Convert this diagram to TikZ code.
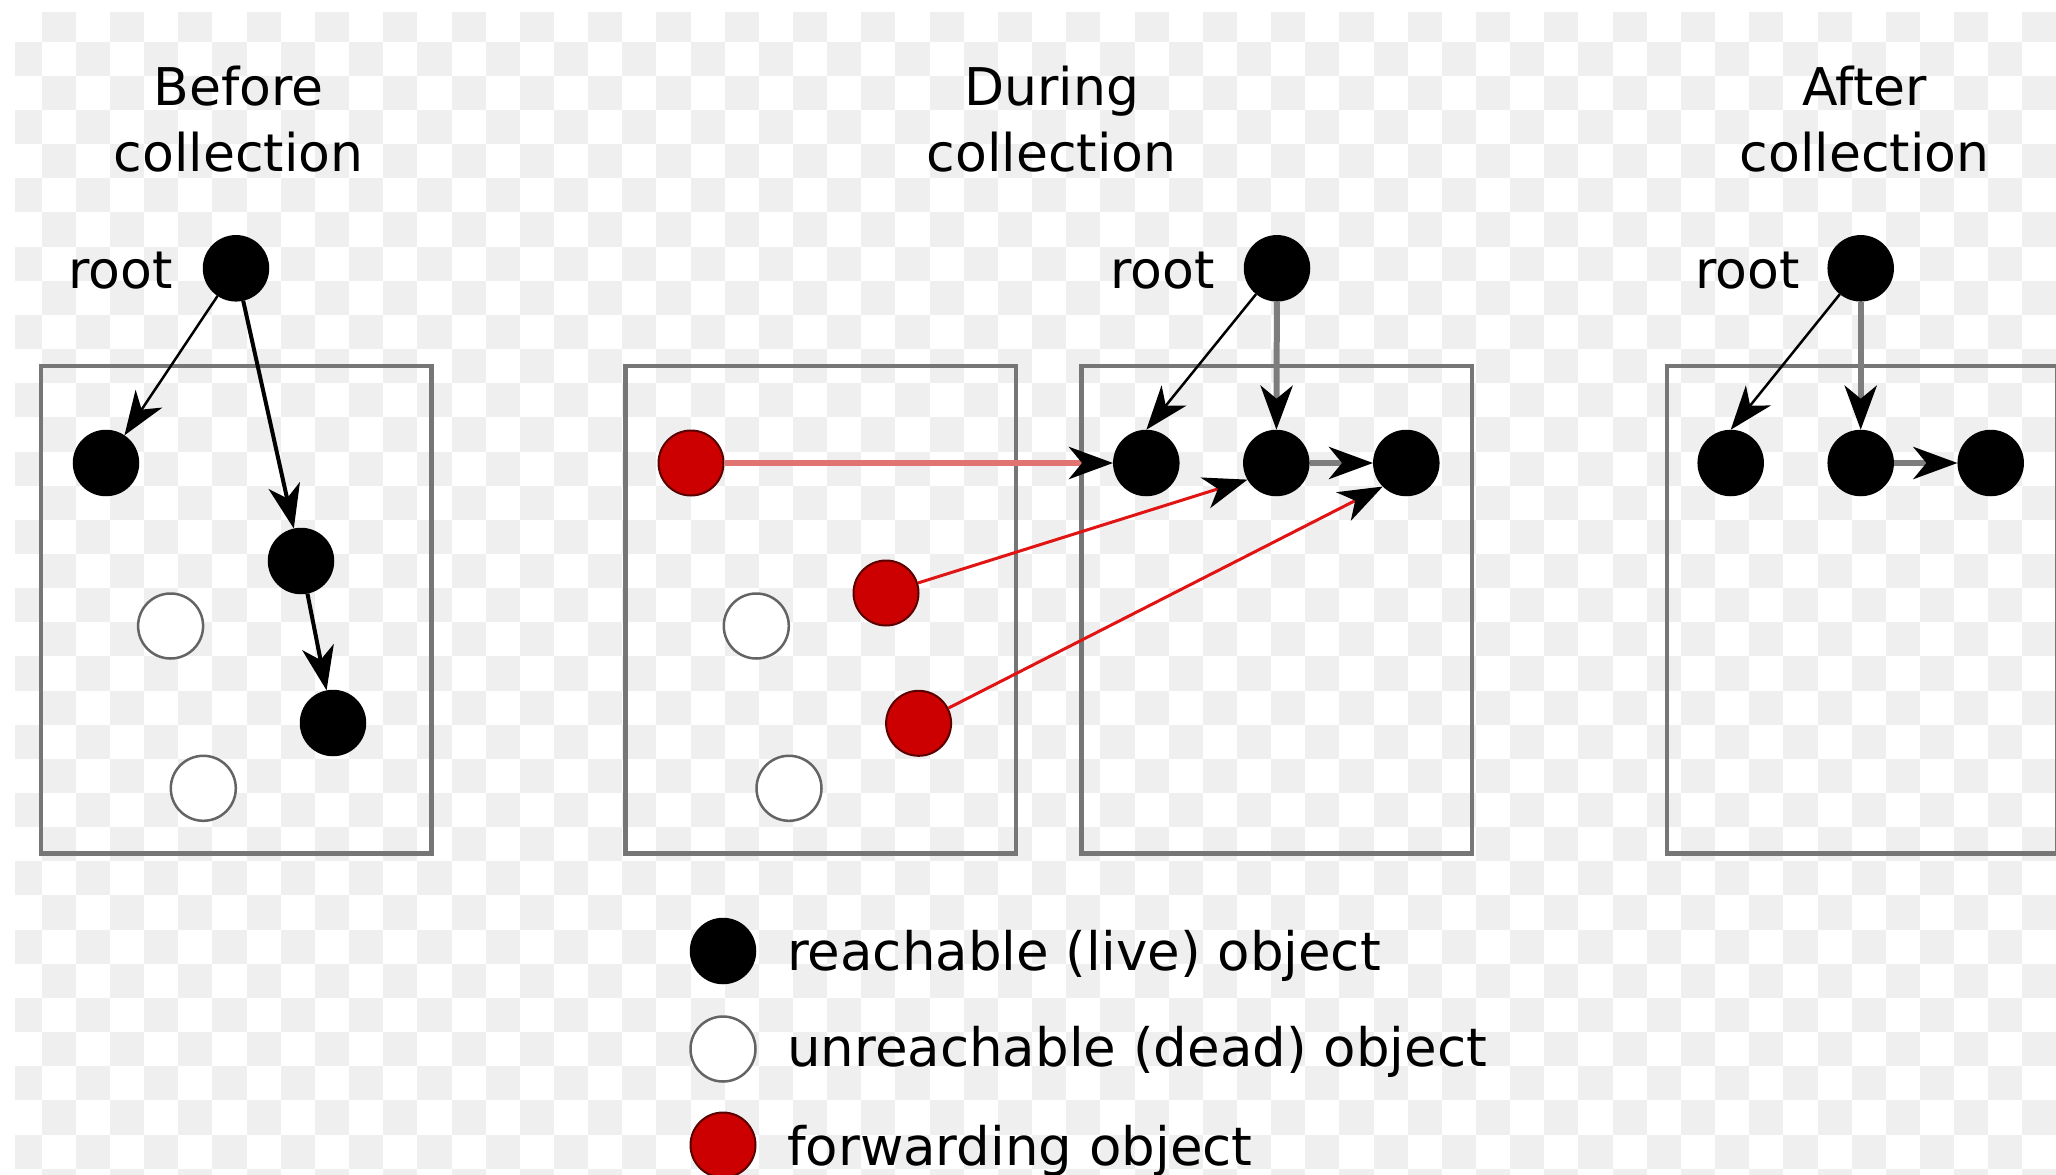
\documentclass[tikz,border=0pt]{standalone}
\usepackage{fontspec}
\setmainfont{DejaVu Sans}
\usetikzlibrary{arrows.meta}
\definecolor{checker}{RGB}{239,239,239}
\definecolor{boxgray}{RGB}{118,118,118}
\definecolor{linkgray}{RGB}{125,125,125}
\definecolor{deadgray}{RGB}{100,100,100}
\definecolor{fwdred}{RGB}{204,0,0}
\definecolor{fwdedge}{RGB}{90,0,0}
\definecolor{lightred}{RGB}{225,115,115}
\definecolor{linkred}{RGB}{225,20,20}
\begin{document}
\begin{tikzpicture}[x=1pt,y=-1pt,
  txt/.style={font=\fontsize{52}{62}\selectfont, inner sep=0pt, anchor=base},
  legendtxt/.style={font=\fontsize{53}{62}\selectfont, inner sep=0pt, anchor=base west},
  obj/.style={circle, inner sep=0pt, minimum size=65pt},
  live/.style={obj, fill=black, draw=black, line width=1.5pt},
  dead/.style={obj, fill=white, draw=deadgray, line width=2.5pt},
  fwd/.style={obj, fill=fwdred, draw=fwdedge, line width=2pt},
  heap/.style={draw=boxgray, line width=4.5pt, minimum width=390.5pt, minimum height=487.5pt, inner sep=0pt},
  headed/.style={-{Stealth[length=44pt, width=32pt, inset=13pt, color=black]}},
  thinlink/.style={headed, draw=black, line width=2.5pt},
  thicklink/.style={headed, draw=black, line width=4pt},
  graylink/.style={headed, draw=linkgray, line width=6pt},
  fwdlink/.style={headed, draw=lightred, line width=6pt},
  redlink/.style={headed, draw=linkred, line width=3pt}
]
\useasboundingbox (0,0) rectangle (2056,1175);
\clip (0,0) rectangle (2056,1175);
\fill[white] (0,0) rectangle (2056,1175);
% checkerboard background
\begin{scope}
\clip (15,12.7) rectangle (2056,1175);
\foreach \r in {0,2,...,34} {\foreach \c in {1,3,...,59} {
  \fill[checker] ({7.55+\c*34.15},{7.55+\r*34.15}) rectangle ++(34.15,34.15);}}
\foreach \r in {1,3,...,33} {\foreach \c in {0,2,...,58} {
  \fill[checker] ({7.55+\c*34.15},{7.55+\r*34.15}) rectangle ++(34.15,34.15);}}
\end{scope}

% titles
\node[txt] (t1a) at (238.7,105) {Before};
\node[txt] (t1b) at (238.7,171.7) {collection};
\node[txt] (t2a) at (1051.6,105) {During};
\node[txt] (t2b) at (1051.6,171.7) {collection};
\node[txt] (t3a) at (1864.5,105) {After};
\node[txt] (t3b) at (1864.5,171.7) {collection};

% heaps
\node[heap] (h1) at (236,609.75) {};
\node[heap] (h2) at (820.8,609.75) {};
\node[heap] (h3) at (1276.8,609.75) {};
\node[heap] (h4) at (1862,609.75) {};

% Before
\node[txt] (rl1) at (120.7,288.3) {root};
\node[live] (rootB) at (236,268.3) {};
\node[live] (L1) at (106,463) {};
\node[live] (L2) at (301,561) {};
\node[live] (L3) at (333,723) {};
\node[dead] (D1) at (170.6,626) {};
\node[dead] (D2) at (203.3,788.3) {};
\draw[thinlink] (rootB) -- (L1);
\draw[thicklink] (rootB) -- (L2);
\draw[thicklink] (L2) -- (L3);

% During
\node[fwd] (R1) at (691,463) {};
\node[fwd] (R2) at (886,593) {};
\node[fwd] (R3) at (918.6,723.3) {};
\node[dead] (D3) at (756.3,626) {};
\node[dead] (D4) at (789,788.3) {};
\node[txt] (rl2) at (1162.5,288.3) {root};
\node[live] (rootD) at (1277,268.3) {};
\node[live] (A) at (1146.3,463) {};
\node[live] (B) at (1276.3,463) {};
\node[live] (C) at (1406.3,463) {};
\draw[thinlink] (rootD) -- (A.north);
\draw[graylink] (rootD) -- (B);
\draw[graylink] (B) -- (C);
\draw[fwdlink] (R1) -- (A);
\draw[redlink] (R2) -- (B.210);
\draw[redlink] (R3) -- (C.225);

% After
\node[txt] (rl3) at (1747.5,288.3) {root};
\node[live] (rootA) at (1860.7,268.3) {};
\node[live] (A2) at (1730.7,463) {};
\node[live] (B2) at (1860.7,463) {};
\node[live] (C2) at (1990.7,463) {};
\draw[thinlink] (rootA) -- (A2.north);
\draw[graylink] (rootA) -- (B2);
\draw[graylink] (B2) -- (C2);

% legend
\node[live] (k1) at (723,951) {};
\node[dead] (k2) at (723,1049) {};
\node[fwd] (k3) at (723,1145) {};
\node[legendtxt] (kt1) at (787,970.7) {reachable (live) object};
\node[legendtxt] (kt2) at (787,1066.7) {unreachable (dead) object};
\node[legendtxt] (kt3) at (787,1165) {forwarding object};
\end{tikzpicture}
\end{document}
